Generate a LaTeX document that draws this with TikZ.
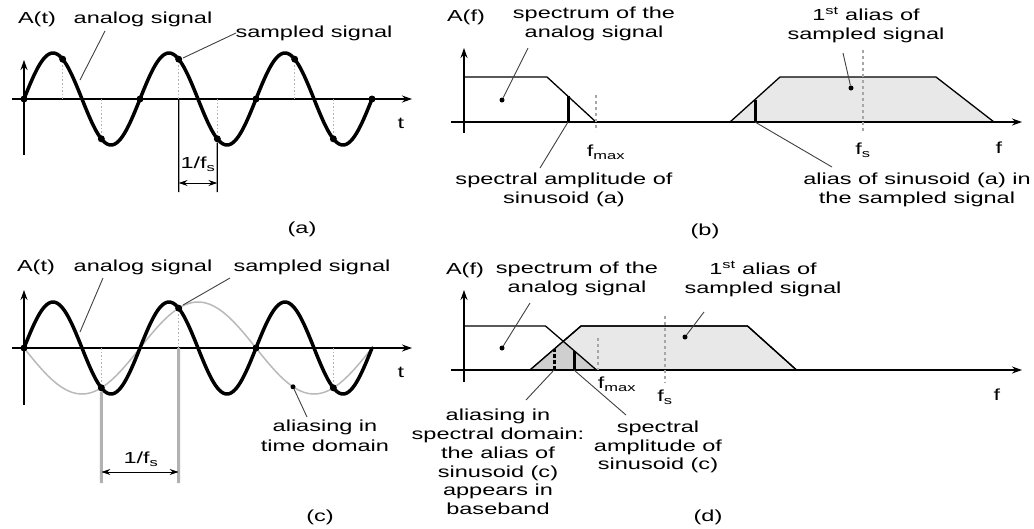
\documentclass[tikz,border=0pt]{standalone}
\usepackage{fontspec}
\setmainfont{Liberation Sans}[FakeStretch=1.47]
\usetikzlibrary{arrows.meta,calc}
\begin{document}
\begin{tikzpicture}[x=1pt,y=-1pt,
 axis/.style={line width=1.3pt,-{Stealth[length=10pt,width=7pt]}},
 sig/.style={line width=3.5pt,line join=round,line cap=round},
 aliascurve/.style={line width=1.5pt,gray!55},
 smp/.style={gray!60,line width=1.6pt,dotted},
 lead/.style={line width=0.9pt,black!75},
 lbl/.style={font=\fontsize{16}{19.5}\selectfont,inner sep=0pt,align=center},
 sdot/.style={circle,fill=black,inner sep=0pt,minimum size=7pt},
 ldot/.style={circle,fill=black,inner sep=0pt,minimum size=5pt},
 spec/.style={line width=1.3pt,line join=miter},
 fillA/.style={fill=gray!18},
 fillB/.style={fill=gray!38},
 fline/.style={gray!70,line width=1.3pt,dashed},
 amp/.style={line width=3pt},
 dimarrow/.style={line width=1pt,{Stealth[length=9pt,width=6pt]}-{Stealth[length=9pt,width=6pt]}},
 gline/.style={gray!60,line width=3pt},
 vline/.style={line width=1.2pt}]
\useasboundingbox (0,0) rectangle (1034,528);

% ================= (a) =================
\coordinate (ya0) at (24,155); \coordinate (ya1) at (24,60);
\coordinate (xa0) at (12,99);  \coordinate (xa1) at (412,99);
\draw[axis] (ya0) -- (ya1);
\draw[axis] (xa0) -- (xa1);
\node[lbl] (ta) at (401,123) {t};
\draw[sig] plot[domain=0:1080,samples=181,smooth] ({24+\x/360*116},{99-46*sin(\x)});
\foreach \k in {0,...,9}{
  \pgfmathsetmacro\xx{24+\k*116/3}
  \pgfmathsetmacro\yy{99-46*sin(\k*120)}
  \draw[smp] (\xx,99) -- (\xx,\yy);
  \node[sdot] (sa\k) at (\xx,\yy) {};
}
\coordinate (fa1) at (178.67,192); \coordinate (fa2) at (217.33,192);
\draw[vline] (sa4 |- xa0) -- (fa1);
\draw[vline] (sa5) -- (fa2);
\coordinate (da1) at (178.67,183); \coordinate (da2) at (217.33,183);
\draw[dimarrow] (da1) -- (da2);
\node[lbl] (fsa) at (198,164) {1/f\textsubscript{s}};
\node[lbl] (Ata) at (37,19) {A(t)};
\node[lbl] (ana) at (143,19) {analog signal};
\node[lbl] (ssa) at (314,33) {sampled signal};
\coordinate (la1) at (105,31); \coordinate (la2) at (80,80);
\draw[lead] (la1) -- (la2);
\coordinate (la3) at (236,33); \coordinate (la4) at (183,58);
\draw[lead] (la3) -- (la4);
\node[lbl] (capa) at (302,229) {(a)};

% ================= (b) =================
\coordinate (yb0) at (464,133); \coordinate (yb1) at (464,48);
\coordinate (xb0) at (451,122); \coordinate (xb1) at (1022,122);
\coordinate (b1) at (464,77); \coordinate (b2) at (547,77); \coordinate (b3) at (596,122);
\coordinate (c1) at (730,122); \coordinate (c2) at (780,77); \coordinate (c3) at (936,77); \coordinate (c4) at (994,122);
\draw[spec,fillA] (c1) -- (c2) -- (c3) -- (c4) -- cycle;
\draw[spec] (b1) -- (b2) -- (b3);
\draw[axis] (yb0) -- (yb1);
\draw[axis] (xb0) -- (xb1);
\coordinate (fmb0) at (596,95); \coordinate (fmb1) at (596,131);
\draw[fline] (fmb0) -- (fmb1);
\coordinate (fsb0) at (863,50); \coordinate (fsb1) at (863,131);
\draw[fline] (fsb0) -- (fsb1);
\coordinate (ab0) at (568,122); \coordinate (ab1) at (568,96);
\draw[amp] (ab0) -- (ab1);
\coordinate (ab2) at (755,122); \coordinate (ab3) at (755,99.5);
\draw[amp] (ab2) -- (ab3);
\node[lbl] (Afb) at (466,17) {A(f)};
\node[lbl] (spb) at (594,24) {spectrum of the\\analog signal};
\node[lbl] (alb) at (866,25) {1\textsuperscript{st} alias of\\sampled signal};
\node[lbl] (fmaxb) at (606,152) {f\textsubscript{max}};
\node[lbl] (fsb) at (863,150) {f\textsubscript{s}};
\node[lbl] (fb) at (999,148) {f};
\node[lbl] (sab) at (564,190) {spectral amplitude of\\sinusoid (a)};
\node[lbl] (asb) at (917,190) {alias of sinusoid (a) in\\the sampled signal};
\node[ldot] (db1) at (502,100) {};
\coordinate (lb1) at (528,48);
\draw[lead] (lb1) -- (db1);
\node[ldot] (db2) at (851,88) {};
\coordinate (lb2) at (843,53);
\draw[lead] (lb2) -- (db2);
\coordinate (lb3) at (540,168);
\draw[lead] (ab0) -- (lb3);
\coordinate (lb4) at (832,167);
\draw[lead] (ab2) -- (lb4);
\node[lbl] (capb) at (705,231) {(b)};

% ================= (c) =================
\coordinate (yc0) at (24,405); \coordinate (yc1) at (24,290);
\coordinate (xc0) at (12,348);  \coordinate (xc1) at (412,348);
\draw[aliascurve] plot[domain=0:1080,samples=121,smooth] ({24+\x/360*116},{348+46*sin(\x/2)});
\draw[axis] (yc0) -- (yc1);
\draw[axis] (xc0) -- (xc1);
\node[lbl] (tc) at (401,372) {t};
\draw[sig] plot[domain=0:1080,samples=181,smooth] ({24+\x/360*116},{348-46*sin(\x)});
\foreach \k in {0,...,4}{
  \pgfmathsetmacro\xx{24+\k*232/3}
  \pgfmathsetmacro\yy{348-46*sin(\k*240)}
  \draw[smp] (\xx,348) -- (\xx,\yy);
  \node[sdot] (sc\k) at (\xx,\yy) {};
}
\coordinate (fc1) at (101.33,483); \coordinate (fc2) at (178.67,483);
\draw[gline] (sc1) -- (fc1);
\draw[gline] (sc2 |- xc0) -- (fc2);
\coordinate (dc1) at (101.33,472); \coordinate (dc2) at (178.67,472);
\draw[dimarrow] (dc1) -- (dc2);
\node[lbl] (fsc) at (141,459) {1/f\textsubscript{s}};
\node[lbl] (Atc) at (36,267) {A(t)};
\node[lbl] (anc) at (143,267) {analog signal};
\node[lbl] (ssc) at (312,267) {sampled signal};
\node[lbl] (alc) at (325,436) {aliasing in\\time domain};
\coordinate (lc1) at (103,278); \coordinate (lc2) at (80,332);
\draw[lead] (lc1) -- (lc2);
\coordinate (lc3) at (230,278); \coordinate (lc4) at (183,305);
\draw[lead] (lc3) -- (lc4);
\node[ldot] (dc3) at (293,386.8) {};
\coordinate (lc5) at (307,417);
\draw[lead] (lc5) -- (dc3);
\node[lbl] (capc) at (320,517) {(c)};

% ================= (d) =================
\coordinate (yd0) at (464,382); \coordinate (yd1) at (464,290);
\coordinate (xd0) at (451,370); \coordinate (xd1) at (1022,370);
\coordinate (e1) at (464,326); \coordinate (e2) at (545.5,326); \coordinate (e3) at (596.5,370);
\coordinate (g1) at (530,370); \coordinate (g2) at (581,326); \coordinate (g3) at (747.5,326); \coordinate (g4) at (796.5,370);
\coordinate (ix) at (intersection of e2--e3 and g1--g2);
\draw[spec,fillA] (g1) -- (g2) -- (g3) -- (g4) -- cycle;
\fill[fillB] (g1) -- (ix) -- (e3) -- cycle;
\draw[spec] (g1) -- (g2) -- (g3) -- (g4);
\draw[spec] (e1) -- (e2) -- (e3);
\draw[axis] (yd0) -- (yd1);
\draw[axis] (xd0) -- (xd1);
\coordinate (fmd0) at (598,338); \coordinate (fmd1) at (598,370);
\draw[fline] (fmd0) -- (fmd1);
\coordinate (fsd0) at (665,316); \coordinate (fsd1) at (665,383);
\draw[fline] (fsd0) -- (fsd1);
\coordinate (ad0) at (554,370); \coordinate (ad1) at (554,349);
\draw[amp,dashed,dash pattern=on 4pt off 2pt] (ad0) -- (ad1);
\coordinate (ad2) at (574,370); \coordinate (ad3) at (574,350.6);
\draw[amp] (ad2) -- (ad3);
\node[lbl] (Afd) at (465,270) {A(f)};
\node[lbl,font=\fontsize{16}{18.7}\selectfont] (spd) at (577,279) {spectrum of the\\analog signal};
\node[lbl,font=\fontsize{16}{18.7}\selectfont] (ald) at (763,279) {1\textsuperscript{st} alias of\\sampled signal};
\node[lbl] (fmaxd) at (617,384) {f\textsubscript{max}};
\node[lbl] (fsd) at (665,397) {f\textsubscript{s}};
\node[lbl] (fd) at (997,395) {f};
\node[lbl,font=\fontsize{16}{18.7}\selectfont] (asd) at (498,462) {aliasing in\\spectral domain:\\the alias of\\sinusoid (c)\\appears in\\baseband};
\node[lbl,font=\fontsize{16}{18.7}\selectfont] (sad) at (658,447) {spectral\\amplitude of\\sinusoid (c)};
\node[ldot] (dd1) at (502,348) {};
\coordinate (ld1) at (530,303);
\draw[lead] (ld1) -- (dd1);
\node[ldot] (dd2) at (685,337) {};
\coordinate (ld2) at (704,312);
\draw[lead] (ld2) -- (dd2);
\coordinate (ld3) at (526,400);
\draw[lead] (ad0) -- (ld3);
\coordinate (ld4) at (626,415);
\draw[lead] (ad2) -- (ld4);
\node[lbl] (capd) at (708,517) {(d)};
\end{tikzpicture}
\end{document}
